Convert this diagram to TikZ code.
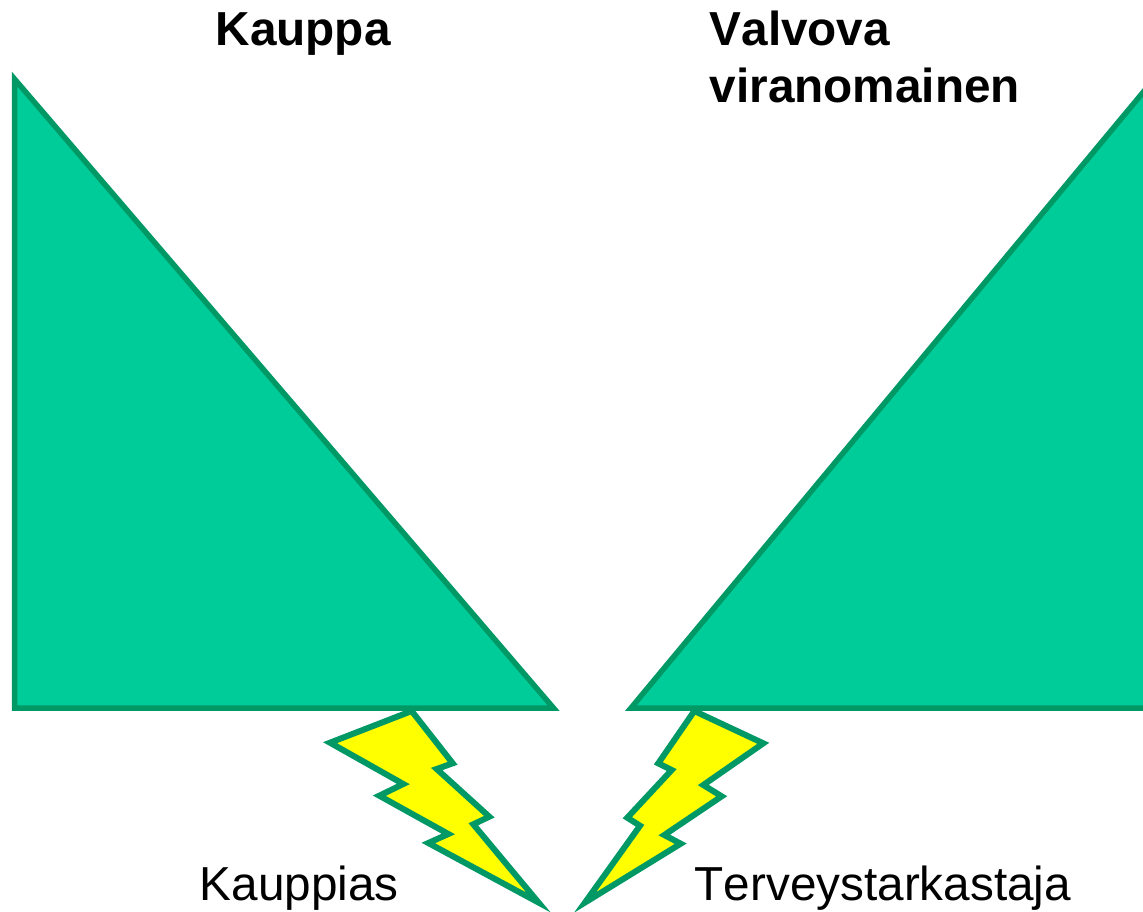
\documentclass[tikz,border=0pt]{standalone}
\usepackage{fontspec}
\setmainfont[Kerning=Off]{Liberation Sans}
\definecolor{wedgefill}{HTML}{00CC99}
\definecolor{edgegreen}{HTML}{009966}
\definecolor{boltyellow}{HTML}{FFFF00}
\tikzset{
  wedge/.style={fill=wedgefill,draw=edgegreen,line width=5.5pt,miter limit=20,line join=miter},
  bolt/.style={fill=boltyellow,draw=edgegreen,line width=6pt,miter limit=20,line join=miter},
  heading/.style={anchor=base west,inner sep=0pt,font=\fontsize{47.7}{57}\selectfont\bfseries,align=left},
  caption/.style={anchor=base west,inner sep=0pt,font=\fontsize{47.7}{57}\selectfont}
}
\begin{document}
\begin{tikzpicture}[x=1pt,y=-1pt]
\useasboundingbox (0,0) rectangle (1143,912);
\clip (0,0) rectangle (1143,912);
\draw[wedge] (14.5,79) -- (14.5,708) -- (553.5,708) -- cycle;
\draw[wedge] (631,708) -- (1150,84) -- (1150,708) -- cycle;
\draw[bolt] (411.7,711) -- (330,742.7) -- (403.3,784) -- (379.3,795.7) -- (448.3,834) -- (428.3,843) -- (538.5,902.5) -- (473.3,824.3) -- (489.3,816.7) -- (436.7,769) -- (452.7,763.3) -- cycle;
\draw[bolt] (694.3,711) -- (763.3,743.3) -- (703.3,785) -- (721.7,796.3) -- (664.3,835) -- (680.7,843.7) -- (585,902.5) -- (640,825.7) -- (627.3,817.7) -- (671.7,770) -- (658.3,763.3) -- cycle;
\node[heading] (kauppa) at (215.5,46) {Kauppa};
\node[heading] (valvova) at (709.5,46) {Valvova};
\node[heading] (viranomainen) at (709.5,103) {viranomainen};
\node[caption] (kauppias) at (199.5,900.5) {Kauppias};
\node[caption] (tarkastaja) at (694.5,900.5) {Terveystarkastaja};
\end{tikzpicture}
\end{document}
